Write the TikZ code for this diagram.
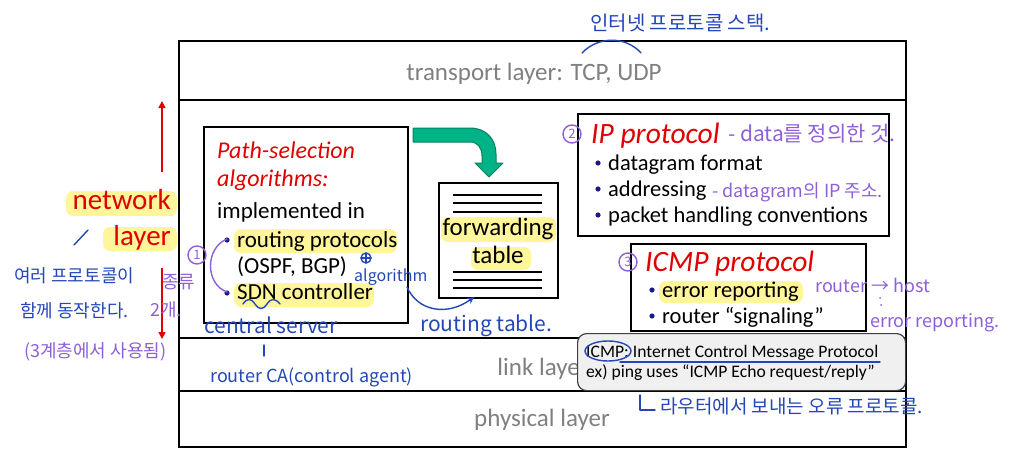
\documentclass[tikz,border=0pt]{standalone}
\usepackage{fontspec}
\setmainfont{Carlito}
\newfontfamily\kr{Noto Sans CJK KR}
\usetikzlibrary{arrows.meta,calc}
\definecolor{hl}{HTML}{FFF59A}
\definecolor{pen}{HTML}{2447B8}
\definecolor{purp}{HTML}{8F5FD8}
\definecolor{redt}{HTML}{E00000}
\definecolor{grayt}{HTML}{808080}
\definecolor{bul}{HTML}{1A1A8C}
\definecolor{tealf}{HTML}{00B386}
\definecolor{teald}{HTML}{0B7F64}
\definecolor{callf}{HTML}{F0F0F0}
\newcommand{\fsz}[1]{\fontsize{#1}{#1}\selectfont}
\begin{document}
\begin{tikzpicture}[x=1pt,y=-1pt,
  t/.style={inner sep=0pt,anchor=base west},
  tc/.style={inner sep=0pt,anchor=base},
  frame/.style={draw=black,line width=1.8pt},
  boxn/.style={draw=black,line width=1.6pt,inner sep=0pt,anchor=north west},
  redit/.style={t,text=redt,font=\fsz{24}\itshape},
  body/.style={t,font=\fsz{23}},
  body2/.style={t,font=\fsz{22.5}},
  layertxt/.style={tc,text=grayt,font=\fsz{25}},
  hilite/.style={fill=hl,rounded corners=7pt},
  bulletdot/.style={fill=bul},
  hand/.style={t,text=pen,font=\kr\fsz{18}},
  handp/.style={t,text=purp,font=\kr\fsz{18}},
  penline/.style={draw=pen,line width=1.4pt,line cap=round,line join=round},
  purpline/.style={draw=purp,line width=1.4pt,line cap=round,line join=round},
  redarrow/.style={draw=redt,line width=1.6pt,-{Triangle[length=7pt,width=7pt]}},
]
\useasboundingbox (0,0) rectangle (1023,458);
\fill[white] (0,0) rectangle (1023,458);

% ---- outer stack ----
\node[boxn,line width=1.8pt,minimum width=727pt,minimum height=406pt] (stack) at (178,40) {};
\coordinate (l1a) at (178,100); \coordinate (l1b) at (905,100);
\coordinate (l2a) at (178,338); \coordinate (l2b) at (905,338);
\coordinate (l3a) at (178,391); \coordinate (l3b) at (905,391);
\draw[frame] (l1a) -- (l1b);
\draw[frame] (l2a) -- (l2b);
\draw[frame] (l3a) -- (l3b);
\node[layertxt] (transport) at (534,80) {transport layer: TCP, UDP};
\node[layertxt] (link) at (543,375) {link layer};
\node[layertxt] (phys) at (542,426) {physical layer};

% ---- network layer label ----
\fill[hilite] (66,191) rectangle (177,216);
\fill[hilite] (103,227) rectangle (177,251);
\node[inner sep=0pt,anchor=base east,text=redt,font=\fsz{29}] (netw) at (171,209) {network};
\node[inner sep=0pt,anchor=base east,text=redt,font=\fsz{29}] (lay) at (171,245) {layer};
\coordinate (ua) at (162,172); \coordinate (ub) at (162,101);
\coordinate (da) at (162,268); \coordinate (db) at (162,339);
\draw[redarrow] (ua) -- (ub);
\draw[redarrow] (da) -- (db);

% ---- path selection box ----
\node[boxn,minimum width=204pt,minimum height=196pt] (ps) at (203,126) {};
\fill[hilite] (234,229) rectangle (397,253);
\fill[hilite] (234,283) rectangle (374,307);
\node[redit] (ps1) at (217,158) {Path-selection};
\node[redit] (ps2) at (217,186) {algorithms:};
\node[body] (ps3) at (217,218) {implemented in};
\fill[bulletdot] (227,240) circle (2.6pt);
\node[body] (ps4) at (237,247) {routing protocols};
\node[body] (ps5) at (237,273) {(OSPF, BGP)};
\fill[bulletdot] (227,293) circle (2.6pt);
\node[body] (ps6) at (237,299) {SDN controller};

% ---- forwarding table ----
\node[boxn,minimum width=119pt,minimum height=115pt] (ft) at (438,182) {};
\foreach \yy in {195,203,212,272,280,288}{\draw[line width=1.5pt] (453,\yy) -- (542,\yy);}
\fill[hilite] (441,217) rectangle (556,242);
\fill[hilite] (471,247) rectangle (531,270);
\node[tc,font=\fsz{25}] (ft1) at (498,235) {forwarding};
\node[tc,font=\fsz{25}] (ft2) at (498,263) {table};

% ---- green bent arrow ----
\filldraw[fill=tealf,draw=teald,line width=1pt,line join=round]
  (413,128) -- (470,128) .. controls (486,128) and (496,139) .. (496,154)
  -- (496,163) -- (503,163) -- (489,177) -- (475,163) -- (482,163) -- (482,156)
  .. controls (482,148) and (478,142) .. (470,142) -- (413,142) -- cycle;

% ---- IP protocol box ----
\node[boxn,minimum width=311pt,minimum height=122pt] (ip) at (577,113) {};
\node[t,text=redt,font=\fsz{29.5}\itshape] (ip0) at (591,143) {IP protocol};
\fill[bulletdot] (598,163) circle (2.6pt);
\node[body2] (ip1) at (608,170) {datagram format};
\fill[bulletdot] (598,189) circle (2.6pt);
\node[body2] (ip2) at (608,196) {addressing};
\fill[bulletdot] (598,215) circle (2.6pt);
\node[body2] (ip3) at (608,222) {packet handling conventions};

% ---- ICMP protocol box ----
\node[boxn,minimum width=235pt,minimum height=87pt] (icmp) at (630,243) {};
\fill[hilite] (659,281) rectangle (803,303);
\node[t,text=redt,font=\fsz{29.5}\itshape] (ic0) at (645,271) {ICMP protocol};
\fill[bulletdot] (652,290) circle (2.6pt);
\node[body2] (ic1) at (662,297) {error reporting};
\fill[bulletdot] (652,316) circle (2.6pt);
\node[body2] (ic2) at (662,323) {router “signaling”};

% ---- callout ----
\node[draw=black!75,fill=callf,line width=1.2pt,rounded corners=9pt,inner sep=0pt,anchor=north west,minimum width=328pt,minimum height=57pt] (call) at (577,333) {};
\node[t,font=\fsz{17.6}] (c1) at (586,357) {ICMP: Internet Control Message Protocol};
\node[t,font=\fsz{17.6}] (c2) at (586,377) {ex) ping uses “ICMP Echo request/reply”};

% ---- handwritten notes (blue) ----
\node[hand,font=\kr\fsz{20}] (n1) at (590,30) {인터넷 프로토콜 스택.};
\draw[penline] (582,53) .. controls (598,36) and (626,36) .. (641,53);
\node[hand] (n2) at (14,282) {여러 프로토콜이};
\node[hand] (n3) at (20,317) {함께 동작한다.};
\draw[penline] (74,245) -- (88,230);
\node[hand,font=\kr\fsz{21}] (n4) at (204,333) {central server};
\draw[penline] (264,345) -- (264,356);
\node[hand] (n5) at (210,382) {router CA(control agent)};
\draw[penline] (366,258) circle (5pt);
\draw[penline] (361,258) -- (371,258) (366,253) -- (366,263);
\node[hand,font=\kr\fsz{16}] (n6) at (354,281) {algorithm};
\coordinate (rta) at (407,287);
\coordinate (rtb) at (474,297);
\draw[penline,-{Stealth[length=7pt,width=7pt]}] (rta) .. controls (418,312) and (448,316) .. (rtb);
\node[hand,font=\kr\fsz{21}] (n7) at (420,331) {routing table.};
\draw[penline] (243,304) .. controls (247,298) and (251,298) .. (255,304) .. controls (259,310) and (263,310) .. (267,304) .. controls (271,298) and (275,298) .. (280,304);
\draw[penline] (620,362) -- (880,362);
\draw[penline] (608,351) ellipse (23pt and 10pt);
\draw[penline] (640,395) -- (640,410) -- (655,410);
\node[hand,font=\kr\fsz{19}] (n8) at (660,413) {라우터에서 보내는 오류 프로토콜.};

% ---- handwritten notes (purple) ----
\draw[purpline] (197,255) circle (9pt);
\node[inner sep=0pt,text=purp,font=\kr\fsz{13}] (c1n) at (197,255) {1};
\draw[purpline] (227,239) .. controls (205,248) and (205,284) .. (227,292);
\node[handp] (p1) at (162,288) {종류};
\node[handp] (p2) at (150,316) {2개.};
\node[handp] (p3) at (24,357) {(3계층에서 사용됨)};
\draw[purpline] (572,134) circle (9pt);
\node[inner sep=0pt,text=purp,font=\kr\fsz{13}] (c2n) at (572,134) {2};
\node[handp,font=\kr\fsz{21}] (p4) at (728,141) {- data를 정의한 것.};
\node[handp] (p5) at (712,197) {- datagram의 IP 주소.};
\draw[purpline] (628,262) circle (9pt);
\node[inner sep=0pt,text=purp,font=\kr\fsz{13}] (c3n) at (628,262) {3};
\node[handp] (p6) at (815,292) {router → host};
\fill[purp] (880,298) circle (1pt) (881,305) circle (1pt);
\node[handp] (p7) at (870,327) {error reporting.};
\end{tikzpicture}
\end{document}
